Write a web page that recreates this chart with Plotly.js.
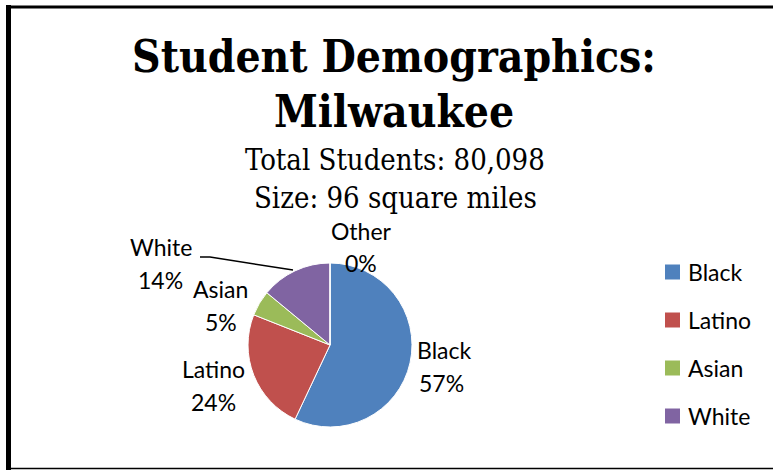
<!DOCTYPE html>
<html>
<head>
<meta charset="utf-8">
<script src="https://cdn.plot.ly/plotly-3.0.1.min.js"></script>
<style>
  html, body { margin: 0; padding: 0; background: #fff; }
  #chart { width: 773px; height: 471px; }
</style>
</head>
<body>
<div id="chart"></div>
<script>
// ---- data ----
var categories = ["Black", "Latino", "Asian", "White", "Other"];
var values = [57, 24, 5, 14, 0];
var colors = ["#4F81BD", "#C0504D", "#9BBB59", "#8064A2", "#4BACC6"];
var legendCategories = ["Black", "Latino", "Asian", "White"];
var titleLine1 = "Student Demographics:";
var titleLine2 = "Milwaukee";
var subtitleLines = ["Total Students: 80,098", "Size: 96 square miles"];

// ---- layout helpers (pixel -> paper) ----
var W = 773, H = 471;
function px(x) { return x / W; }
function py(y) { return 1 - y / H; }

var labelFont = { family: "Lato, 'Open Sans', sans-serif", size: 23, color: "#000" };
var serifFont = "'DejaVu Serif Condensed', 'DejaVu Serif', serif";

// pie geometry
var cx = 330, cy = 345, r = 82;

var trace = {
  type: "pie",
  labels: categories,
  values: values,
  sort: false,
  direction: "clockwise",
  rotation: 0,
  textinfo: "none",
  hoverinfo: "label+percent",
  showlegend: false,
  marker: { colors: colors, line: { color: "#ffffff", width: 1 } },
  domain: { x: [px(cx - r), px(cx + r)], y: [py(cy + r), py(cy - r)] }
};

var total = values.reduce(function (a, b) { return a + b; }, 0);
function pct(i) { return Math.round(values[i] / total * 100) + "%"; }

// data label positions (name line / percent line centers)
var labelPos = {
  "Black":  [444, 350, 442, 383],
  "Latino": [213, 369, 213, 402],
  "Asian":  [221, 289, 221, 322],
  "White":  [161, 247, 160, 280],
  "Other":  [361, 231, 361, 263]
};

var annotations = [];
categories.forEach(function (c, i) {
  var p = labelPos[c];
  annotations.push({ text: c, x: px(p[0]), y: py(p[1]), xref: "paper", yref: "paper",
    xanchor: "center", yanchor: "middle", showarrow: false, font: labelFont });
  annotations.push({ text: pct(i), x: px(p[2]), y: py(p[3]), xref: "paper", yref: "paper",
    xanchor: "center", yanchor: "middle", showarrow: false, font: labelFont });
});

// title line 2 and subtitles
annotations.push({ text: "<b>" + titleLine2 + "</b>", x: px(394), y: py(112), xref: "paper", yref: "paper",
  xanchor: "center", yanchor: "middle", showarrow: false,
  font: { family: serifFont, size: 44, color: "#000" } });
var subY = [160, 198];
subtitleLines.forEach(function (t, i) {
  annotations.push({ text: t, x: px(395), y: py(subY[i]), xref: "paper", yref: "paper",
    xanchor: "center", yanchor: "middle", showarrow: false,
    font: { family: serifFont, size: 29, color: "#000" } });
});

// manual legend
var shapes = [];
var legY0 = 272, legStep = 48;
legendCategories.forEach(function (c, i) {
  var y = legY0 + i * legStep;
  shapes.push({ type: "rect", xref: "paper", yref: "paper",
    x0: px(665), x1: px(680), y0: py(y + 7.5), y1: py(y - 7.5),
    fillcolor: colors[categories.indexOf(c)], line: { width: 0 } });
  annotations.push({ text: c, x: px(686), y: py(y), xref: "paper", yref: "paper",
    xanchor: "left", yanchor: "middle", showarrow: false, font: labelFont });
});

// leader line for White label
shapes.push({ type: "path", xref: "paper", yref: "paper",
  path: "M " + px(200) + "," + py(257) + " L " + px(210) + "," + py(257) + " L " + px(293) + "," + py(270),
  line: { color: "#000", width: 1.5 } });

// frame
shapes.push({ type: "line", xref: "paper", yref: "paper", x0: px(8.5), x1: px(8.5), y0: py(5), y1: py(470),
  line: { color: "#000", width: 5 } });
shapes.push({ type: "line", xref: "paper", yref: "paper", x0: px(6), x1: px(773), y0: py(7), y1: py(7),
  line: { color: "#000", width: 3 } });
shapes.push({ type: "line", xref: "paper", yref: "paper", x0: px(6), x1: px(773), y0: py(468.5), y1: py(468.5),
  line: { color: "#000", width: 1.5 } });

var layout = {
  width: W, height: H,
  margin: { l: 0, r: 0, t: 0, b: 0 },
  paper_bgcolor: "#fff",
  showlegend: false,
  title: { text: "<b>" + titleLine1 + "</b>", x: px(394), xanchor: "center", xref: "paper",
    y: py(57), yanchor: "middle", yref: "paper",
    font: { family: serifFont, size: 44, color: "#000" } },
  annotations: annotations,
  shapes: shapes
};

Plotly.newPlot("chart", [trace], layout, { displayModeBar: false, staticPlot: true });
</script>
</body>
</html>
